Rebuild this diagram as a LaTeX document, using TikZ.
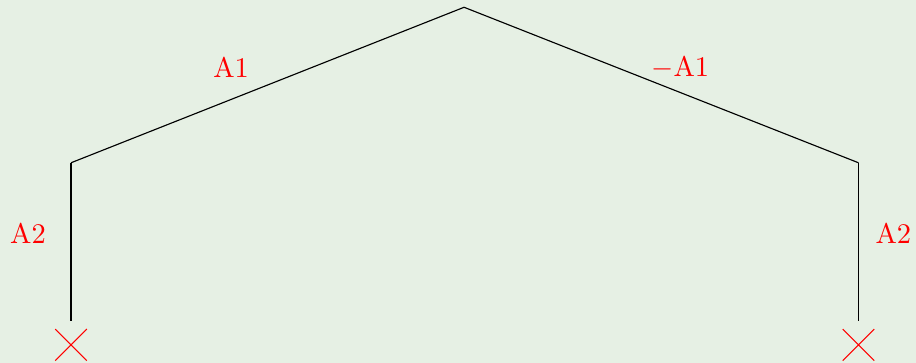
\documentclass[tikz,border=0pt]{standalone}
\usepackage{tikz}
\usetikzlibrary{shapes.misc}
\definecolor{treebg}{RGB}{230,240,228}
\tikzset{
    branch/.style={draw=black, thin},
    brlbl/.style={font=\normalsize, text=red, inner sep=1pt},
    deadleaf/.style={draw=red, cross out, thin, minimum size=0.39cm, inner sep=0pt, outer sep=0pt},
}
\begin{document}
\begin{tikzpicture}
        \fill[treebg] (0,0) rectangle (11.31,4.48);
        \useasboundingbox (0,0) rectangle (11.31,4.48);
        % Nodos del arbol
        \coordinate (root) at (5.73,4.39);
        \coordinate (lft)  at (0.877,2.47);
        \coordinate (rgt)  at (10.60,2.47);
        \node[deadleaf] (lleaf) at (0.877,0.222) {};
        \node[deadleaf] (rleaf) at (10.60,0.222) {};
        % Ramas
        \draw[branch] (root) -- (lft);
        \draw[branch] (root) -- (rgt);
        \draw[branch, shorten >=0.1cm] (lft) -- (lleaf);
        \draw[branch, shorten >=0.1cm] (rgt) -- (rleaf);
        % Etiquetas
        \node[brlbl] (a1)  at (2.853,3.643) {A1};
        \node[brlbl] (na1) at (8.40,3.643)  {$-$A1};
        \node[brlbl] (la2) at (0.346,1.605) {A2};
        \node[brlbl] (ra2) at (11.03,1.605) {A2};
    \end{tikzpicture}
\end{document}
